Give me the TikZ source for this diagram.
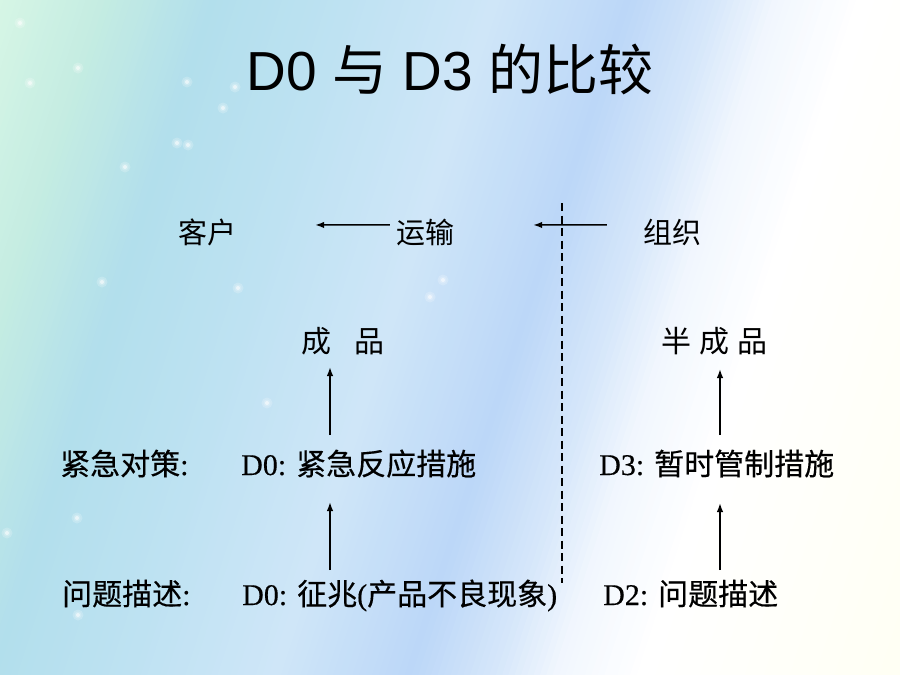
\documentclass[tikz,border=0pt]{standalone}
\usepackage{fontspec}
\setmainfont{Liberation Serif}
\newfontfamily\cjk{Noto Sans CJK SC}
\newfontfamily\cjkb[FakeBold=0.4]{Noto Sans CJK SC}
\newfontfamily\tmsb[FakeBold=0.4]{Liberation Serif}
\newfontfamily\arial{Liberation Sans}
\usetikzlibrary{arrows.meta,calc}

\definecolor{bgA}{HTML}{DAF8E6}
\definecolor{bgB}{HTML}{C4ECE2}
\definecolor{bgC}{HTML}{B2DFEC}
\definecolor{bgD}{HTML}{BEE2F2}
\definecolor{bgE}{HTML}{CFE6F8}
\definecolor{bgF}{HTML}{BCD7F8}
\definecolor{bgG}{HTML}{D6E7FA}
\definecolor{bgH}{HTML}{F2F7FE}
\definecolor{bgI}{HTML}{FFFFFF}
\definecolor{bgJ}{HTML}{FFFFF2}

% #1 p0, #2 p1, #3 colour at p0, #4 colour at p1
\newcommand\bandseg[4]{%
  \pgfmathsetmacro\bandn{int(max(1,((#2)-(#1))/6))}%
  \foreach \k in {1,...,\bandn}{%
    \pgfmathsetmacro\bandpa{(#1)+((#2)-(#1))*(\k-1)/\bandn}%
    \pgfmathsetmacro\bandpb{(#1)+((#2)-(#1))*\k/\bandn+0.8}%
    \pgfmathsetmacro\bandt{100*(\k-0.5)/\bandn}%
    \fill[fill={#4!\bandt!#3}]
      ({(\bandpa+6.18)/0.951},-20) -- ({(\bandpb+6.18)/0.951},-20) --
      ({(\bandpb-216.3)/0.951},700) -- ({(\bandpa-216.3)/0.951},700) -- cycle;
  }%
}

\tikzset{
  row1/.style={font=\cjk\fontsize{29}{32}\selectfont, inner sep=0pt, anchor=base},
  rowp/.style={font=\fontsize{30}{33}\selectfont, inner sep=0pt, anchor=base west},
  rowt/.style={font=\tmsb\fontsize{30}{33}\selectfont, inner sep=0pt, anchor=base west},
  arr/.style={-{Latex[length=9pt,width=6.5pt]}, line width=1.5pt},
  sepline/.style={dash pattern=on 8pt off 4.5pt, line width=1.2pt},
  spark/.style={fill=white, opacity=0.55},
  sparkhalo/.style={fill=white, opacity=0.2}
}

\begin{document}
\begin{tikzpicture}[x=1pt,y=-1pt]
\useasboundingbox (0,0) rectangle (900,675);

% ---------- background ----------
\begin{scope}
  \clip (0,0) rectangle (900,675);
  \bandseg{-20}{100}{bgA}{bgB}
  \bandseg{100}{200}{bgB}{bgC}
  \bandseg{200}{330}{bgC}{bgD}
  \bandseg{330}{470}{bgD}{bgE}
  \bandseg{470}{600}{bgE}{bgF}
  \bandseg{600}{680}{bgF}{bgG}
  \bandseg{680}{740}{bgG}{bgH}
  \bandseg{740}{820}{bgH}{bgI}
  \bandseg{820}{1100}{bgI}{bgJ}
  \foreach \sx/\sy in {187/82,235/87,223/108,188/145,177/143,125/167,78/68,30/83,
                       20/23,102/282,238/288,443/280,430/297,77/518,78/615,267/403,7/533}{
    \fill[sparkhalo] (\sx,\sy) circle (5.5);
    \fill[sparkhalo] (\sx,\sy) circle (3.5);
    \fill[spark] (\sx,\sy) circle (2);
  }
\end{scope}

% ---------- title ----------
\node[inner sep=0pt, anchor=base] (title) at (450,90)
  {\fontsize{55}{60}\selectfont\arial D0 {\cjk 与} D3 {\cjk 的比较}};

% ---------- top row ----------
\node[row1] (kehu)   at (207,243) {客户};
\node[row1] (yunshu) at (425,243) {运输};
\node[row1] (zuzhi)  at (672,243) {组织};

\draw[arr, shorten <=6pt, shorten >=79pt]
  ([yshift=7pt]yunshu.west) -- ([yshift=7pt]kehu.east);
\draw[arr, shorten <=36pt, shorten >=79pt]
  ([yshift=7pt]zuzhi.west) -- ([yshift=7pt]yunshu.east);

% ---------- products ----------
\node[rowp] (cp)  at (301,352) {{\cjk 成}\hspace{23pt}{\cjk 品}};
\node[rowp] (bcp) at (661,352) {{\cjk 半}\hspace{8pt}{\cjk 成}\hspace{8pt}{\cjk 品}};

% ---------- rows ----------
\node[rowt] (jjdc) at (60,475)  {{\cjkb 紧急对策}:};
\node[rowt] (d0a)  at (241,475) {D0: {\cjkb 紧急反应措施}};
\node[rowt] (d3)   at (599,475) {D3: {\cjkb 暂时管制措施}};

\node[rowt] (wtms) at (62,605)  {{\cjkb 问题描述}:};
\node[rowt] (d0b)  at (242,605) {D0: {\cjkb 征兆}({\cjkb 产品不良现象})};
\node[rowt] (d2)   at (603,605) {D2: {\cjkb 问题描述}};

% ---------- vertical arrows ----------
\coordinate (colL) at (330,0);
\coordinate (colR) at (720,0);

\draw[arr] ($(d0a.base -| colL)+(0,-40)$) -- ($(cp.base -| colL)+(0,15)$);
\draw[arr] ($(d0b.base -| colL)+(0,-35)$) -- ($(d0a.base -| colL)+(0,27)$);
\draw[arr] ($(d3.base -| colR)+(0,-40)$) -- ($(bcp.base -| colR)+(0,17)$);
\draw[arr] ($(d2.base -| colR)+(0,-35)$) -- ($(d3.base -| colR)+(0,28)$);

% ---------- separator ----------
\coordinate (septop) at (562,203);
\coordinate (sepbot) at (562,583);
\draw[sepline] (septop) -- (sepbot);
\end{tikzpicture}
\end{document}
